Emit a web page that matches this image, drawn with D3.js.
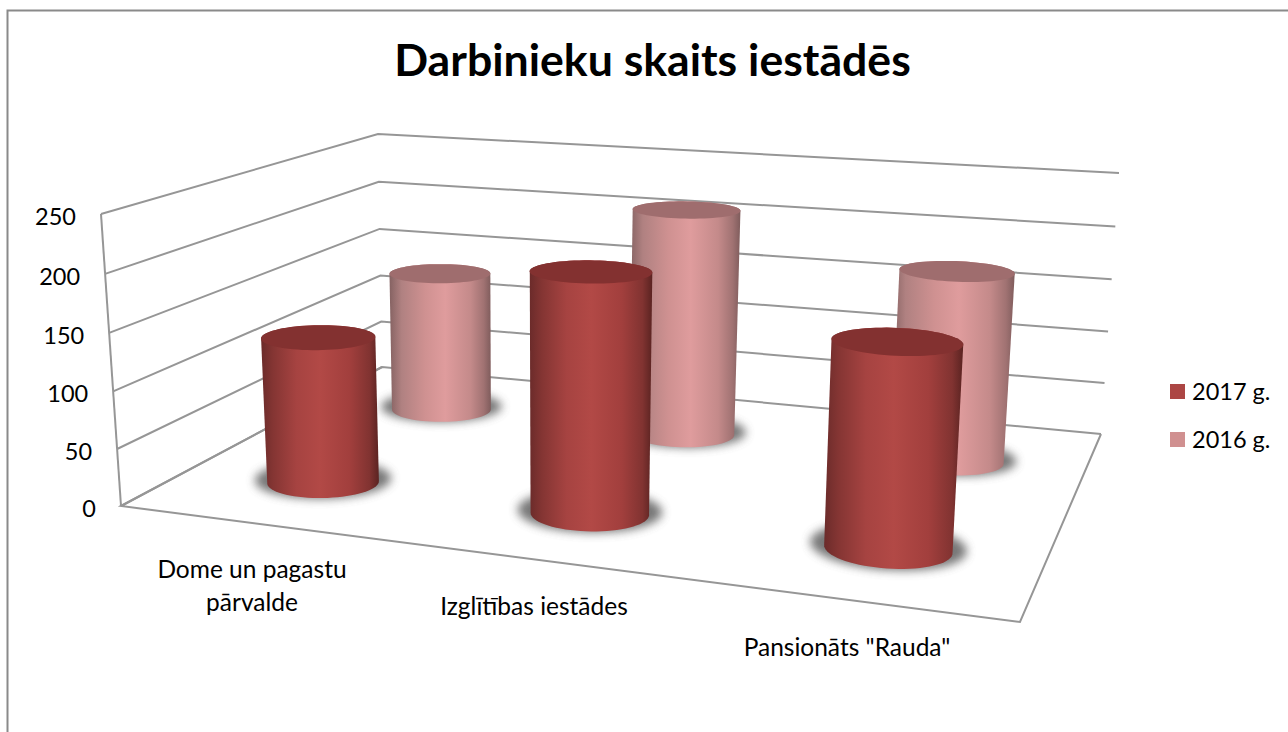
<!DOCTYPE html>
<html><head><meta charset="utf-8">
<script src="https://cdn.jsdelivr.net/npm/d3@7"></script>
<style>html,body{margin:0;padding:0;background:#fff;overflow:hidden}svg{display:block}text{font-family:Lato,"Open Sans",sans-serif;fill:#000}</style>
</head><body><svg id="c" width="1288" height="732"></svg>
<script>
const categories = [["Dome un pagastu","pārvalde"],["Izglītības iestādes"],['Pansionāts "Rauda"']];
const seriesNames = ["2017 g.","2016 g."];
const values2017 = [130,206,169];
const values2016 = [137,215,175];
const valueTicks = [0,50,100,150,200,250];
const svg = d3.select("#c");

function homography(q){
  const [[x0,y0],[x1,y1],[x2,y2],[x3,y3]] = q;
  const dx1=x1-x2,dx2=x3-x2,dy1=y1-y2,dy2=y3-y2,sx=x0-x1+x2-x3,sy=y0-y1+y2-y3;
  const den=dx1*dy2-dx2*dy1;
  const g=(sx*dy2-dx2*sy)/den,h=(dx1*sy-sx*dy1)/den;
  const a=x1-x0+g*x1,b=x3-x0+h*x3,d=y1-y0+g*y1,e=y3-y0+h*y3;
  return (u,v)=>{const w=g*u+h*v+1;return [(a*u+b*v+x0)/w,(d*u+e*v+y0)/w];};
}
const floorH = homography([[121,506],[1020,622],[1101,434],[382,367]]);
const topH = homography([[101,214],[1040,282],[1119,173],[378,134]]);
const yScale = d3.scaleLinear().domain([0,250]).range([0,1]);
const xScale = d3.scaleBand().domain(d3.range(categories.length)).range([0.007,1.007]);
const zScale = d3.scalePoint().domain(seriesNames).range([-0.012,0.988]).padding(0.5);
const R = 0.97;
function project(x,val,z){
  const a=floorH(x,z),b=topH(x,z),t=yScale(val);
  const f=R*t/((1-t)+R*t);
  return [a[0]+(b[0]-a[0])*f,a[1]+(b[1]-a[1])*f];
}
const line = d3.line();

const defs = svg.append("defs");
const f=defs.append("filter").attr("id","blur").attr("x","-30%").attr("y","-60%").attr("width","160%").attr("height","220%");
f.append("feGaussianBlur").attr("stdDeviation",5);
function grad(id,stops){
  const g=defs.append("linearGradient").attr("id",id);
  stops.forEach(s=>g.append("stop").attr("offset",s[0]).attr("stop-color",s[1]));
}
grad("g2017",[[0,"#6b2b2a"],[0.1,"#843533"],[0.3,"#a64341"],[0.5,"#b24946"],[0.75,"#a23f3d"],[0.92,"#813331"],[1,"#5a2321"]]);
grad("g2016",[[0,"#856262"],[0.12,"#b08181"],[0.35,"#cf9191"],[0.55,"#df9c9d"],[0.8,"#c48a8a"],[0.93,"#a07272"],[1,"#7f5c5c"]]);
const topColor={"2017 g.":"#833130","2016 g.":"#9f6d6e"};
const legendColor={"2017 g.":"#ac4644","2016 g.":"#d09090"};

svg.append("path").attr("d",line([[1290,10.5],[7.5,10.5],[7.5,734]])).attr("fill","none").attr("stroke","#8a8a8a").attr("stroke-width",2);

const gl=svg.append("g").attr("fill","none").attr("stroke","#969696").attr("stroke-width",2);
valueTicks.forEach(v=>{
  gl.append("path").attr("d",line([project(0,v,0),project(0,v,1),project(1,v,1)]));
});
gl.append("path").attr("d",line([project(0,0,0),project(0,250,0)]));
gl.append("path").attr("d",line([project(0,0,1),project(0,0,0),project(1,0,0),project(1,0,1)]));

svg.append("g").selectAll("text").data(valueTicks).join("text")
  .attr("x",d=>project(0,d,0)[0]-25).attr("y",d=>project(0,d,0)[1]+11)
  .attr("text-anchor","end").attr("font-size",23.5).text(d=>d);

const catLabelPos=[[252,578],[534,615],[847,656]];
categories.forEach((c,i)=>{
  const t=svg.append("text").attr("text-anchor","middle").attr("font-size",24.5);
  c.forEach((l,j)=>t.append("tspan").attr("x",catLabelPos[i][0]).attr("y",catLabelPos[i][1]+j*33).text(l));
});

const RX=0.0665,RZ=0.09;
const angles=d3.range(0,2*Math.PI,Math.PI/36);
function circle(cx,val,cz,s){return angles.map(a=>project(cx+RX*s*Math.cos(a),val,cz+RZ*s*Math.sin(a)));}
const rows=[{name:"2016 g.",vals:values2016},{name:"2017 g.",vals:values2017}];
rows.forEach(r=>{
  const id=r.name==="2017 g."?"g2017":"g2016";
  const cz=zScale(r.name);
  r.vals.forEach((v,i)=>{
    const cx=xScale(i)+xScale.bandwidth()/2;
    const g=svg.append("g");
    g.append("path").attr("d",line(circle(cx,0,cz,1.22))+"Z").attr("transform","translate(0,-3)").attr("fill","#555").attr("opacity",0.8).attr("filter","url(#blur)");
    const bot=circle(cx,0,cz,1),top=circle(cx,v,cz,1);
    const hull=d3.polygonHull(bot.concat(top));
    g.append("path").attr("d",line(hull)+"Z").attr("fill",`url(#${id})`);
    g.append("path").attr("d",line(top)+"Z").attr("fill",topColor[r.name]);
  });
});

svg.append("text").attr("x",652.5).attr("y",76).attr("text-anchor","middle").attr("font-size",44.6).attr("font-weight",700).text("Darbinieku skaits iestādēs");

const legY=d3.scalePoint().domain(seriesNames).range([391.5,439.5]);
const lg=svg.append("g").selectAll("g").data(seriesNames).join("g").attr("transform",d=>`translate(1170,${legY(d)})`);
lg.append("rect").attr("x",0).attr("y",-7.5).attr("width",15).attr("height",15).attr("fill",d=>legendColor[d]);
lg.append("text").attr("x",22).attr("y",8).attr("font-size",23.5).text(d=>d);
</script></body></html>
